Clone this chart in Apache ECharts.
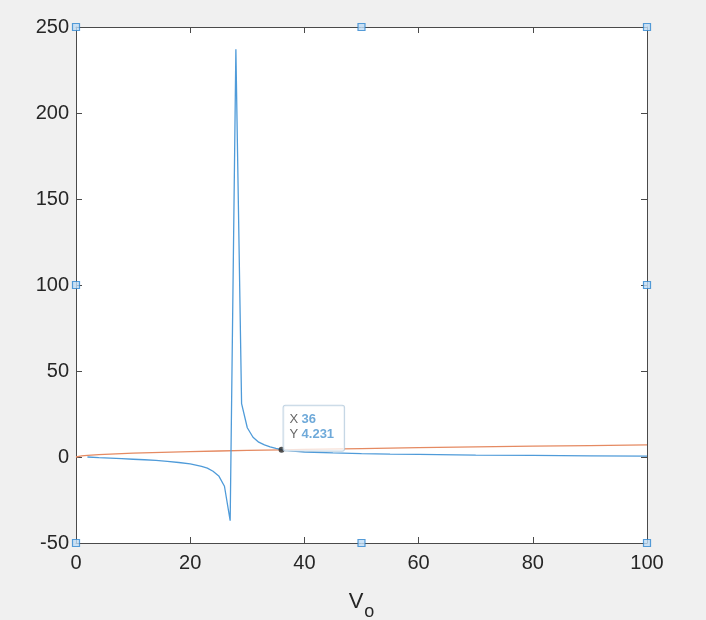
<!DOCTYPE html>
<html>
<head>
<meta charset="utf-8">
<script src="https://cdn.jsdelivr.net/npm/echarts@6/dist/echarts.min.js"></script>
<style>
  html, body { margin: 0; padding: 0; background: #f0f0f0; }
  #main { width: 706px; height: 620px; }
</style>
</head>
<body>
<div id="main"></div>
<script>
// blue curve
const blueX = [2, 4, 6, 8, 10, 12, 14, 16, 18, 20, 21, 22, 23, 24, 25, 26, 27, 28, 29, 30, 31, 32, 33, 34, 35, 36, 38, 40, 45, 50, 55, 60, 70, 80, 90, 100];
const blueY = [0, -0.4, -0.7, -1.0, -1.3, -1.6, -2.0, -2.5, -3.2, -4.0, -4.7, -5.5, -6.5, -8.3, -11, -17, -37, 237, 31, 17, 11.5, 8.6, 7.0, 5.9, 5.0, 4.231, 3.5, 2.9, 2.4, 2.0, 1.7, 1.5, 1.1, 0.9, 0.7, 0.5];

// orange curve
const orangeX = [0, 1, 2, 4, 6, 10, 15, 20, 25, 30, 36, 40, 50, 60, 70, 80, 90, 100];
const orangeY = [0, 0.7, 1.0, 1.4, 1.7, 2.2, 2.7, 3.1, 3.5, 3.8, 4.2, 4.4, 4.9, 5.4, 5.9, 6.3, 6.6, 7.0];

// data tip
const tipX = 36;
const tipY = 4.231;

// selection handles
const handleX = [0, 50, 100, 0, 100, 0, 50, 100];
const handleY = [250, 250, 250, 100, 100, -50, -50, -50];

const xTicks = [0, 20, 40, 60, 80, 100];
const yTicks = [-50, 0, 50, 100, 150, 200, 250];

const axisColor = '#4a4a4a';
const textColor = '#262626';
const font = '"Liberation Sans", Arial, sans-serif';

const chart = echarts.init(document.getElementById('main'));

const xCommon = {
  type: 'value', min: xTicks[0], max: xTicks[xTicks.length - 1], interval: 20,
  axisLine: {show: true, onZero: false, lineStyle: {color: axisColor, width: 1}},
  axisTick: {show: true, inside: true, length: 6, lineStyle: {color: axisColor}},
  splitLine: {show: false}
};
const yCommon = {
  type: 'value', min: yTicks[0], max: yTicks[yTicks.length - 1], interval: 50,
  axisLine: {show: true, onZero: false, lineStyle: {color: axisColor, width: 1}},
  axisTick: {show: true, inside: true, length: 6, lineStyle: {color: axisColor}},
  splitLine: {show: false}
};

let option = {
  backgroundColor: '#f0f0f0',
  animation: false,
  grid: {
    left: 76, right: 59, top: 27, bottom: 77,
    containLabel: false,
    outerBoundsMode: 'none',
    show: true, backgroundColor: '#ffffff', borderWidth: 0
  },
  xAxis: [
    Object.assign({}, xCommon, {
      position: 'bottom',
      axisLabel: {color: textColor, fontSize: 20, fontFamily: font, margin: 10},
      name: '{v|V}{s|o}',
      nameLocation: 'middle',
      nameGap: 40,
      nameTextStyle: {
        rich: {
          v: {fontSize: 22, fontFamily: font, color: textColor},
          s: {fontSize: 18, fontFamily: font, color: textColor, padding: [20, 0, 0, 1]}
        }
      }
    }),
    Object.assign({}, xCommon, {position: 'top', axisLabel: {show: false}})
  ],
  yAxis: [
    Object.assign({}, yCommon, {
      position: 'left',
      axisLabel: {color: textColor, fontSize: 20, fontFamily: font, margin: 7}
    }),
    Object.assign({}, yCommon, {position: 'right', axisLabel: {show: false}})
  ],
  series: [
    {
      type: 'line',
      data: orangeX.map((x, i) => [x, orangeY[i]]),
      showSymbol: false,
      lineStyle: {color: '#e58a62', width: 1.3},
      z: 2
    },
    {
      type: 'line',
      data: blueX.map((x, i) => [x, blueY[i]]),
      showSymbol: false,
      lineStyle: {color: '#4f9bd9', width: 1.3},
      z: 3
    },
    {
      type: 'scatter',
      data: [[tipX, tipY]],
      symbol: 'circle',
      symbolSize: 6,
      itemStyle: {color: '#262626'},
      z: 10,
      label: {
        show: true,
        position: [5, -41],
        align: 'left',
        verticalAlign: 'top',
        formatter: '{k|X} {v|' + tipX + '}\n{k|Y} {v|' + tipY + '}',
        backgroundColor: 'rgba(255,255,255,0.92)',
        borderColor: '#b3c9dc',
        borderWidth: 1,
        borderRadius: 2,
        padding: [6, 10, 9, 6],
        rich: {
          k: {color: '#404040', fontSize: 13, fontFamily: font, lineHeight: 15},
          v: {color: '#4a94d0', fontSize: 13, fontFamily: font, fontWeight: 'bold', lineHeight: 15}
        }
      }
    },
    {
      type: 'scatter',
      data: handleX.map((x, i) => [x, handleY[i]]),
      symbol: 'rect',
      symbolSize: 7,
      itemStyle: {color: '#bfdcf5', borderColor: '#2f86d0', borderWidth: 1.2},
      z: 20,
      clip: false,
      silent: true
    }
  ]
};

chart.setOption(option);
window.addEventListener('resize', () => {
  chart.resize();
});
</script>
</body>
</html>
